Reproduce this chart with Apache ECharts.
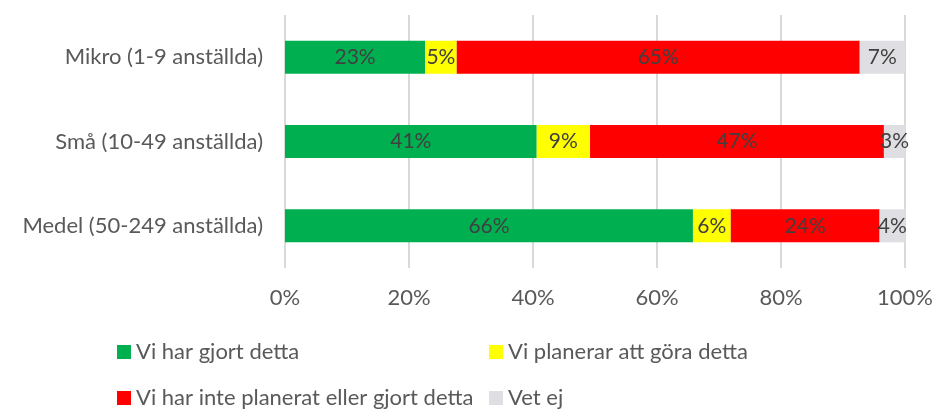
<!DOCTYPE html>
<html>
<head>
<meta charset="utf-8">
<script src="https://cdn.jsdelivr.net/npm/echarts@6/dist/echarts.min.js"></script>
<style>
    html, body { margin: 0; padding: 0; background: #fff; }
    #main { width: 932px; height: 409px; }
</style>
</head>
<body>
<div id="main"></div>
<script type="text/javascript">
    var categories = ['Mikro (1-9 anställda)', 'Små (10-49 anställda)', 'Medel (50-249 anställda)'];
    var seriesNames = ['Vi har gjort detta', 'Vi planerar att göra detta', 'Vi har inte planerat eller gjort detta', 'Vet ej'];
    var doneData = [22.6, 40.6, 65.8];
    var plannedData = [5.1, 8.6, 6.1];
    var notPlannedData = [65.0, 47.4, 24.0];
    var dontKnowData = [7.3, 3.4, 4.1];
    var colors = ['#00B050', '#FFFF00', '#FF0000', '#DFDFE3'];

    var font = 'Lato, "Open Sans", sans-serif';
    var myChart = echarts.init(document.getElementById('main'));

    var series = [doneData, plannedData, notPlannedData, dontKnowData].map(function (d, i) {
        return {
            name: seriesNames[i],
            type: 'bar',
            stack: 'total',
            barWidth: 33,
            itemStyle: { color: colors[i] },
            label: {
                show: true,
                position: 'inside',
                color: '#404040',
                fontFamily: font,
                fontSize: 21,
                formatter: function (p) { return Math.round(p.value) + '%'; }
            },
            data: d
        };
    });

    var legendPos = [[117, 341], [489, 341], [117, 387], [489, 387]];
    var legends = seriesNames.map(function (name, i) {
        return {
            data: [name],
            left: legendPos[i][0],
            top: legendPos[i][1],
            padding: 0,
            itemWidth: 14,
            itemHeight: 14,
            itemGap: 6,
            icon: 'rect',
            selectedMode: false,
            textStyle: { color: '#595959', fontFamily: font, fontSize: 22, lineHeight: 22, padding: [0, 0, 0, 0] }
        };
    });

    var option = {
        animation: false,
        color: colors,
        grid: { left: 285, right: 27, top: 15, bottom: 141, containLabel: false, outerBoundsMode: 'none' },
        legend: legends,
        xAxis: {
            type: 'value',
            min: 0,
            max: 100,
            interval: 20,
            axisLine: { show: false },
            axisTick: { show: false },
            splitLine: { lineStyle: { color: '#D9D9D9', width: 2 } },
            axisLabel: {
                margin: 19,
                color: '#595959',
                fontFamily: font,
                fontSize: 22,
                formatter: '{value}%'
            }
        },
        yAxis: {
            type: 'category',
            inverse: true,
            data: categories,
            axisLine: { show: false },
            axisTick: { show: false },
            axisLabel: {
                margin: 22,
                color: '#595959',
                fontFamily: font,
                fontSize: 22
            }
        },
        series: series
    };
    myChart.setOption(option);
</script>
</body>
</html>
